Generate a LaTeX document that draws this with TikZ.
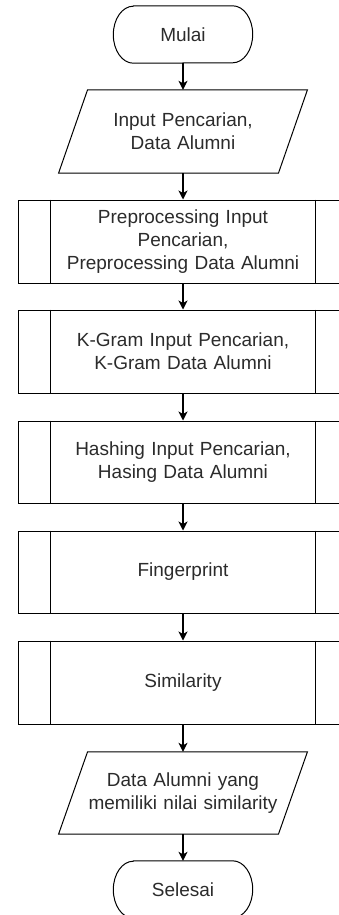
\documentclass[tikz,border=0pt]{standalone}
\usepackage{fontspec}
\setmainfont{Liberation Sans}
\usetikzlibrary{arrows.meta}
\definecolor{txt}{HTML}{2b2b2b}
\begin{document}
\begin{tikzpicture}[x=1pt,y=-1pt,
  lbl/.style={text=txt, font=\fontsize{19}{23}\selectfont, align=center, inner sep=0pt},
  term/.style={lbl, draw=none, minimum width=139pt, minimum height=57pt},
  iobox/.style={lbl, draw=none, minimum width=219.5pt, minimum height=83pt, text width=215pt},
  proc/.style={lbl, draw=black, line width=1pt, minimum width=330pt, minimum height=83pt, text width=250pt},
  arr/.style={draw=black, line width=1.2pt, -{Stealth[length=9pt,width=9pt,inset=2.5pt]}}]
\useasboundingbox (0,0) rectangle (339,915);

\node[term] (mulai) at (183,34.5) {Mulai};
\node[iobox] (in) at (183,131.5) {Input Pencarian,\\Data Alumni};
\node[proc] (pre) at (183,241.5) {Preprocessing Input\\Pencarian,\\Preprocessing Data Alumni};
\node[proc] (kg) at (183,351.5) {K-Gram Input Pencarian,\\K-Gram Data Alumni};
\node[proc, minimum height=82pt] (hash) at (183,462) {Hashing Input Pencarian,\\Hasing Data Alumni};
\node[proc, minimum height=82pt] (fp) at (183,572) {Fingerprint};
\node[proc] (sim) at (183,682.5) {Similarity};
\node[iobox, minimum height=82pt] (out) at (183,793) {Data Alumni yang\\memiliki nilai similarity};
\node[term] (sel) at (183,889.5) {Selesai};

\foreach \n in {mulai,sel}
  \draw[line width=1pt] ([xshift=20pt]\n.north west) -- ([xshift=-20pt]\n.north east)
     arc[start angle=90, end angle=-90, x radius=20pt, y radius=28.5pt]
     -- ([xshift=20pt]\n.south west)
     arc[start angle=270, end angle=90, x radius=20pt, y radius=28.5pt] -- cycle;
\foreach \n in {in,out}
  \draw[line width=1pt] ([xshift=14.5pt]\n.north west) -- ([xshift=14.5pt]\n.north east)
     -- ([xshift=-14.5pt]\n.south east) -- ([xshift=-14.5pt]\n.south west) -- cycle;
\foreach \n in {pre,kg,hash,fp,sim}{
  \draw[line width=1pt] ([xshift=33pt]\n.north west) -- ([xshift=33pt]\n.south west);
  \draw[line width=1pt] ([xshift=-33pt]\n.north east) -- ([xshift=-33pt]\n.south east);
}

\draw[arr] (mulai.south) -- (in.north);
\draw[arr] (in.south) -- (pre.north);
\draw[arr] (pre.south) -- (kg.north);
\draw[arr] (kg.south) -- (hash.north);
\draw[arr] (hash.south) -- (fp.north);
\draw[arr] (fp.south) -- (sim.north);
\draw[arr] (sim.south) -- (out.north);
\draw[arr] (out.south) -- (sel.north);
\end{tikzpicture}
\end{document}
